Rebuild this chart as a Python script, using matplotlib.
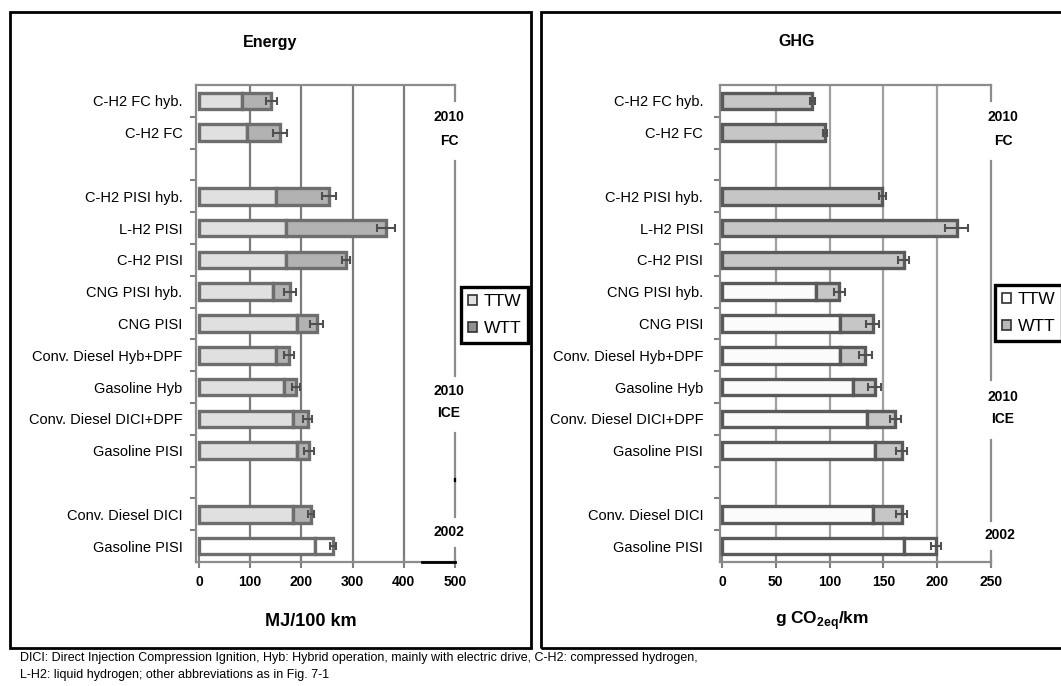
import matplotlib
matplotlib.use("Agg")
import matplotlib.pyplot as plt
import numpy as np
from matplotlib.patches import Rectangle, Patch
from matplotlib.lines import Line2D

plt.rcParams['font.family'] = ['Liberation Sans', 'DejaVu Sans']
plt.rcParams['mathtext.fontset'] = 'custom'
plt.rcParams['mathtext.rm'] = 'Liberation Sans'
plt.rcParams['mathtext.bf'] = 'Liberation Sans:bold'

# ---------------- data ----------------
row_labels = ["C-H2 FC hyb.", "C-H2 FC", "", "C-H2 PISI hyb.", "L-H2 PISI", "C-H2 PISI",
              "CNG PISI hyb.", "CNG PISI", "Conv. Diesel Hyb+DPF", "Gasoline Hyb",
              "Conv. Diesel DICI+DPF", "Gasoline PISI", "", "Conv. Diesel DICI", "Gasoline PISI"]

energy_ttw = [85, 94, 150, 170, 170, 145, 191, 150, 166, 183, 191, 184, 227]
energy_wtt = [56, 64, 104, 195, 117, 33, 39, 26, 24, 29, 24, 34, 34]
energy_err = [11, 13, 14, 18, 8, 12, 13, 10, 8, 9, 10, 6, 6]

ghg_ttw = [0, 0, 0, 0, 0, 87, 110, 110, 122, 135, 142, 140, 169]
ghg_wtt = [84, 96, 149, 218, 169, 22, 30, 23, 20, 26, 25, 27, 30]
ghg_err = [2, 2, 3, 11, 5, 5, 6, 6, 6, 5, 5, 5, 5]

energy_ticks = [0, 100, 200, 300, 400, 500]
ghg_ticks = [0, 50, 100, 150, 200, 250]

series_names = ["TTW", "WTT"]

W, H = 1061, 686
fig = plt.figure(figsize=(W / 100, H / 100), dpi=100)
fig.patch.set_facecolor('white')


def fx(px):
    return px / W


def fy(py):
    return 1 - py / H


pos = np.array([i for i, l in enumerate(row_labels) if l != ""])

# frames
for (x0, y0, x1, y1) in [(10, 12, 531, 648), (541, 12, 1066, 648)]:
    fig.add_artist(Rectangle((fx(x0), fy(y1)), fx(x1 - x0), (y1 - y0) / H,
                             transform=fig.transFigure, fill=False,
                             edgecolor='black', linewidth=2.0, zorder=0))


def make_panel(left_px, right_px, xlim, ttw, wtt, err, ticks, colors_ttw, colors_wtt,
               edgec, gridc, ypad):
    ax = fig.add_axes([fx(left_px), fy(562), fx(right_px - left_px), 477 / H])
    ax.set_xlim(*xlim)
    ax.set_ylim(14.5, -0.5)
    ttw = np.array(ttw, float)
    wtt = np.array(wtt, float)
    ax.barh(pos, ttw, height=0.52, color=colors_ttw, edgecolor=edgec, linewidth=2.4, zorder=3)
    ax.barh(pos, wtt, left=ttw, height=0.52, color=colors_wtt, edgecolor=edgec,
            linewidth=2.4, zorder=3)
    ax.errorbar(ttw + wtt, pos, xerr=err, fmt='none', ecolor='#505050',
                elinewidth=1.5, capsize=3, capthick=1.5, zorder=4)
    ax.set_xticks(ticks)
    ax.set_xticklabels([str(t) for t in ticks], fontweight='bold', fontsize=10)
    ax.set_yticks(range(len(row_labels)))
    ax.set_yticklabels(row_labels, fontsize=10.5)
    ax.set_yticks(np.arange(0.5, 14, 1), minor=True)
    ax.tick_params(axis='y', which='major', length=0, pad=ypad)
    ax.tick_params(axis='y', which='minor', length=4, width=1.5, color='#808080',
                   direction='out')
    ax.tick_params(axis='x', which='major', length=8, width=1.5, color='#808080',
                   direction='inout', pad=5)
    for t in ticks[1:-1]:
        ax.axvline(t, color=gridc, linewidth=1.6, zorder=1)
    for s in ['left', 'bottom', 'top']:
        ax.spines[s].set_color('#8c8c8c')
        ax.spines[s].set_linewidth(1.6)
    ax.spines['right'].set_visible(False)
    return ax


axL = make_panel(196.4, 455, (-5, 500), energy_ttw, energy_wtt, energy_err, energy_ticks,
                 ['#e0e0e0'] * 12 + ['white'], ['#b2b2b2'] * 12 + ['white'],
                 '#6e6e6e', '#7c7c7c', 10)
axR = make_panel(719.8, 991, (-2, 250), ghg_ttw, ghg_wtt, ghg_err, ghg_ticks,
                 ['#fbfbfb'] * 12 + ['white'], ['#c6c6c6'] * 12 + ['white'],
                 '#5a5a5a', '#a0a0a0', 12)

# group separator lines with gaps
for xl, segs in [(455, [(85, 101), (161, 376), (433, 517), (548, 562)]),
                 (991, [(85, 101), (161, 380), (440, 521), (551, 565)])]:
    for (a, b) in segs:
        fig.add_artist(Line2D([fx(xl)] * 2, [fy(a), fy(b)], transform=fig.transFigure,
                              color='#8c8c8c', linewidth=1.6))
# black artefacts of the left panel
fig.add_artist(Line2D([fx(422), fx(455)], [fy(562)] * 2, transform=fig.transFigure,
                      color='black', linewidth=2.0))
fig.add_artist(Line2D([fx(455)] * 2, [fy(479), fy(481)], transform=fig.transFigure,
                      color='black', linewidth=1.6))

# group labels
for x, y, s in [(449, 117, "2010"), (449, 141, "FC"), (449, 391, "2010"), (449, 413, "ICE"),
                (449, 532, "2002"),
                (1003, 117, "2010"), (1003, 141, "FC"), (1003, 397, "2010"),
                (1003, 419, "ICE"), (1000, 535, "2002")]:
    fig.text(fx(x), fy(y), s, ha='center', va='center', fontsize=10, fontweight='bold')

# titles & axis labels
fig.text(fx(270), fy(42), "Energy", ha='center', va='center', fontsize=11.5, fontweight='bold')
fig.text(fx(797), fy(42), "GHG", ha='center', va='center', fontsize=11.5, fontweight='bold')
fig.text(fx(311), fy(621), "MJ/100 km", ha='center', va='center', fontsize=13,
         fontweight='bold')
fig.text(fx(822), fy(621), r"g CO$_{\mathbf{2eq}}$/km", ha='center', va='center',
         fontsize=12.5, fontweight='bold')

# legends
def add_legend(ax, x, y, ttw_c, wtt_c):
    handles = [Patch(facecolor=ttw_c, edgecolor='#303030', linewidth=1.2, label=series_names[0]),
               Patch(facecolor=wtt_c, edgecolor='#303030', linewidth=1.2, label=series_names[1])]
    leg = ax.legend(handles=handles, loc='upper left', bbox_to_anchor=(fx(x), fy(y)),
                    bbox_transform=fig.transFigure, fontsize=12.5, handlelength=0.55,
                    handleheight=0.55, handletextpad=0.35, labelspacing=0.7,
                    borderpad=0.4, borderaxespad=0, fancybox=False, framealpha=1)
    leg.get_frame().set_edgecolor('black')
    leg.get_frame().set_linewidth(2.4)
    leg.set_zorder(10)
    return leg


add_legend(axL, 461, 287, '#e0e0e0', '#909090')
add_legend(axR, 995, 285, 'white', '#b8b8b8')

# caption
fig.text(fx(20), fy(658), "DICI: Direct Injection Compression Ignition, Hyb: Hybrid operation, "
         "mainly with electric drive, C-H2: compressed hydrogen,", ha='left', va='center',
         fontsize=9)
fig.text(fx(20), fy(675), "L-H2: liquid hydrogen; other abbreviations as in Fig. 7-1",
         ha='left', va='center', fontsize=9)

fig.savefig("out.png", dpi=100)
